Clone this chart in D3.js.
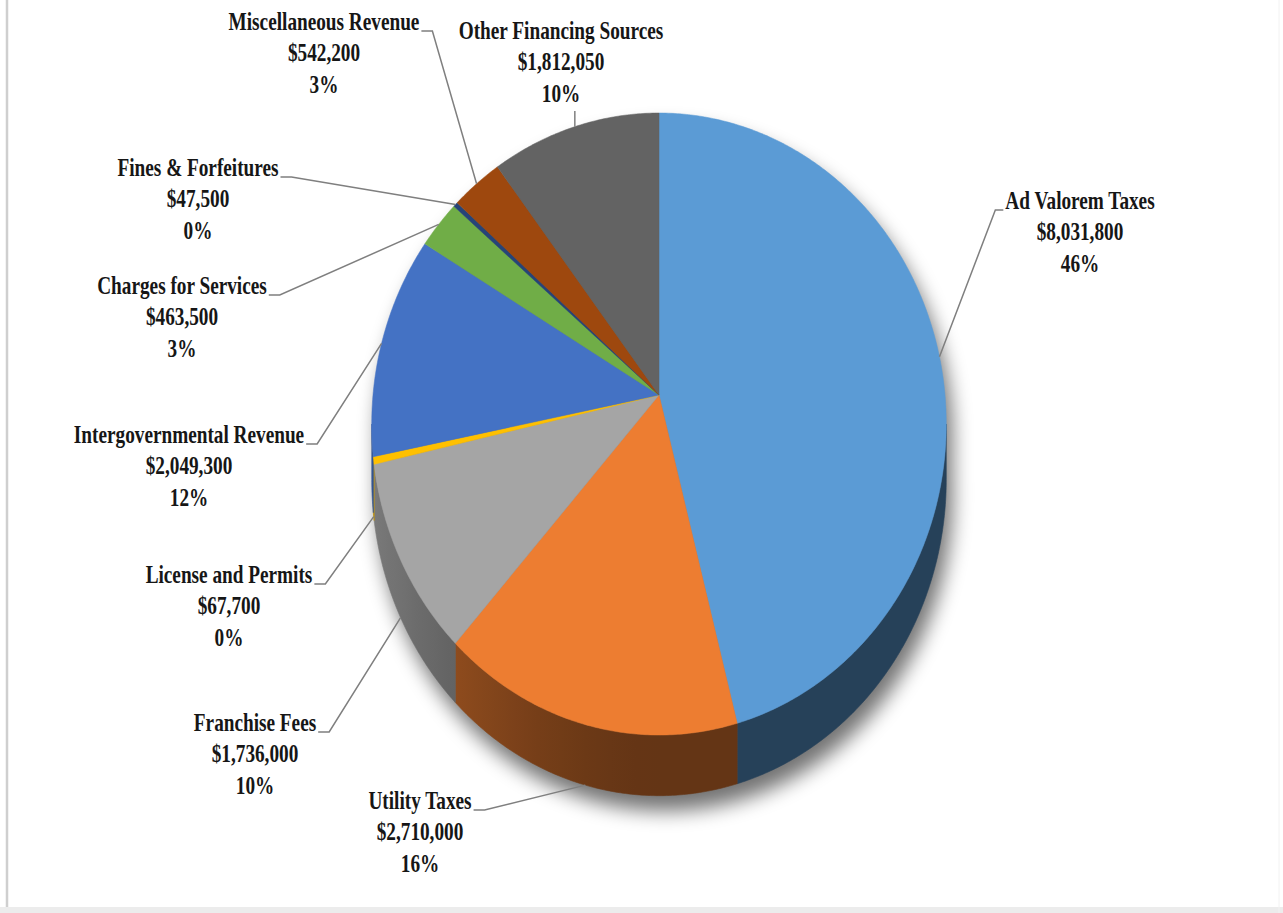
<!DOCTYPE html>
<html>
<head>
<meta charset="utf-8">
<script src="https://cdn.jsdelivr.net/npm/d3@7"></script>
<style>
  html, body { margin: 0; padding: 0; background: #fff; }
  svg { display: block; }
</style>
</head>
<body>
<svg id="chart" width="1283" height="913"></svg>
<script>
// Revenue sources, clockwise from 12 o'clock
const categories = [
  "Ad Valorem Taxes", "Utility Taxes", "Franchise Fees", "License and Permits",
  "Intergovernmental Revenue", "Charges for Services", "Fines & Forfeitures",
  "Miscellaneous Revenue", "Other Financing Sources"
];
const amounts = [8031800, 2710000, 1736000, 67700, 2049300, 463500, 47500, 542200, 1812050];
const colors = ["#5B9BD5", "#ED7D31", "#A5A5A5", "#FFC000", "#4472C4", "#70AD47", "#264478", "#9E480E", "#636363"];

// Label placement: centre x and first baseline y of each three-line label
const labelX = [1080, 420, 255, 229, 189, 182, 198, 324, 561];
const labelY = [209, 809, 731, 583, 443, 294, 176, 30, 39];

const W = 1283, H = 913;
const svg = d3.select("#chart");

// page frame
svg.append("rect").attr("x", 0).attr("y", 0).attr("width", W).attr("height", H).attr("fill", "#fff");
svg.append("line").attr("x1", 7).attr("x2", 7).attr("y1", 0).attr("y2", H)
  .attr("stroke", "#cfcfcf").attr("stroke-width", 2.5);
svg.append("rect").attr("x", 0).attr("y", 907).attr("width", W).attr("height", 6).attr("fill", "#ececec");
svg.append("line").attr("x1", 1279).attr("x2", 1279).attr("y1", 0).attr("y2", H)
  .attr("stroke", "#f2f2f2").attr("stroke-width", 1);

// Perspective projection of a tilted disc: theta clockwise from the far (top) point,
// depth 0 = top face, depth 1 = bottom face.
const cx = 659, cy = 395, A = 286, B = 308.3, P = 0.0933, D = 55;
function proj(theta, depth) {
  const u = Math.sin(theta), v = Math.cos(theta), s = 1 / (1 + P * v);
  return [cx + A * u * s, cy - B * v * s + D * s * depth];
}

const total = d3.sum(amounts);
const pie = d3.pie().sort(null).value(d => d)(amounts);
const fmtMoney = d3.format("$,");
const fmtPct = d3.format(".0%");

const defs = svg.append("defs");
const blur = defs.append("filter").attr("id", "soft").attr("x", "-20%").attr("y", "-20%")
  .attr("width", "140%").attr("height", "140%");
blur.append("feGaussianBlur").attr("stdDeviation", 10);

function arcPoints(a0, a1, depth) {
  const n = Math.max(2, Math.ceil((a1 - a0) / (Math.PI / 360)));
  return d3.range(n + 1).map(k => proj(a0 + (a1 - a0) * k / n, depth));
}
const line = pts => "M" + pts.map(p => p[0].toFixed(2) + "," + p[1].toFixed(2)).join("L");

// Visible wall range (where the outline is tangent)
const thetaMin = Math.acos(-P), thetaMax = 2 * Math.PI - thetaMin;

// Drop shadow under the whole solid
const shadow = svg.append("g").attr("filter", "url(#soft)").attr("opacity", 0.55)
  .attr("transform", "translate(6,15)");
shadow.append("path").attr("d", line(arcPoints(0, 2 * Math.PI, 0)) + "Z").attr("fill", "#000");
shadow.append("path").attr("d", line(arcPoints(0, 2 * Math.PI, 1)) + "Z").attr("fill", "#000");
shadow.append("path")
  .attr("d", line(arcPoints(thetaMin, thetaMax, 0).concat(arcPoints(thetaMin, thetaMax, 1).reverse())) + "Z")
  .attr("fill", "#000");

// Side walls, shaded by angle (lighter toward the left)
const light = t => 0.42 + 0.33 * Math.pow(Math.max(0, -Math.sin(t)), 1.5);
function shade(c, f) {
  const r = d3.rgb(c);
  return d3.rgb(r.r * f, r.g * f, r.b * f).formatHex();
}

const walls = svg.append("g");
pie.forEach((d, i) => {
  const a0 = Math.max(d.startAngle, thetaMin), a1 = Math.min(d.endAngle, thetaMax);
  if (a1 <= a0) return;
  const top = arcPoints(a0, a1, 0), bot = arcPoints(a0, a1, 1);
  const xs = top.map(p => p[0]);
  const xL = d3.min(xs), xR = d3.max(xs);
  const gid = "wall" + i;
  const g = defs.append("linearGradient").attr("id", gid)
    .attr("gradientUnits", "userSpaceOnUse")
    .attr("x1", xL).attr("x2", xR).attr("y1", 0).attr("y2", 0);
  const n = 12;
  const stops = d3.range(n + 1).map(k => {
    const t = a0 + (a1 - a0) * k / n;
    const x = proj(t, 0)[0];
    return { off: xR > xL ? (x - xL) / (xR - xL) : 0, col: shade(colors[i], light(t)) };
  }).sort((a, b) => a.off - b.off);
  stops.forEach(s => g.append("stop").attr("offset", s.off).attr("stop-color", s.col));
  walls.append("path")
    .attr("d", line(top.concat(bot.reverse())) + "Z")
    .attr("fill", `url(#${gid})`)
    .attr("stroke", `url(#${gid})`).attr("stroke-width", 0.6);
});

// Top faces
const faces = svg.append("g");
pie.forEach((d, i) => {
  const pts = [[cx, cy]].concat(arcPoints(d.startAngle, d.endAngle, 0));
  faces.append("path")
    .attr("d", line(pts) + "Z")
    .attr("fill", colors[i])
    .attr("stroke", colors[i]).attr("stroke-width", 0.5);
});

// Labels with leader lines
const SX = 0.77, LH = 31.5;
const labels = svg.append("g")
  .attr("font-family", "'Liberation Serif', 'Times New Roman', serif")
  .attr("font-weight", "bold").attr("font-size", 25).attr("fill", "#161616");
const leaders = svg.append("g").attr("fill", "none").attr("stroke", "#7f7f7f").attr("stroke-width", 1.5);

pie.forEach((d, i) => {
  const lx = labelX[i], ly = labelY[i];
  const g = labels.append("g").attr("transform", `translate(${lx},${ly}) scale(${SX},1)`);
  const lines = [categories[i], fmtMoney(amounts[i]), fmtPct(amounts[i] / total)];
  const texts = lines.map((s, k) => g.append("text").attr("x", 0).attr("y", k * LH)
    .attr("text-anchor", "middle").text(s));
  const hw = texts[0].node().getComputedTextLength() * SX / 2;

  const mid = (d.startAngle + d.endAngle) / 2;
  const anchor = proj(mid, Math.cos(mid) < 0 ? 1 : 0);
  let pts;
  if (anchor[1] > ly + 2 * LH + 8 && Math.abs(anchor[0] - lx) < hw) {
    // label sits directly above its slice
    pts = [[anchor[0], ly + 2 * LH + 9], anchor];
  } else if (anchor[0] < lx) {
    pts = [[lx - hw - 2, ly + 1], [lx - hw - 10, ly + 1], anchor];
  } else {
    pts = [[lx + hw + 2, ly + 1], [lx + hw + 13, ly + 1], anchor];
  }
  leaders.append("path").attr("d", line(pts));
});
</script>
</body>
</html>
